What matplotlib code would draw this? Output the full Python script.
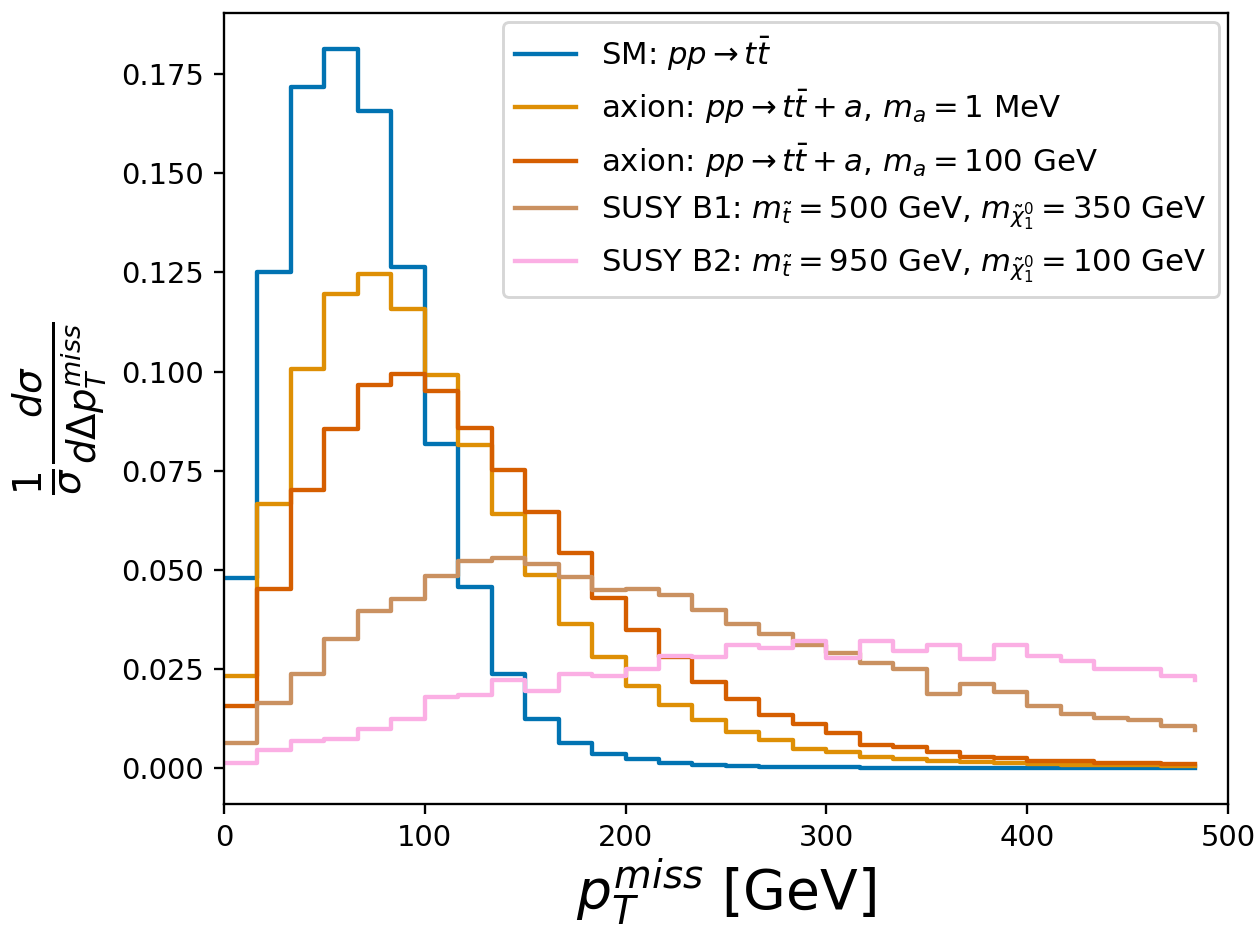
import numpy as np
import matplotlib
matplotlib.use('Agg')
import matplotlib.pyplot as plt

# bin left edges (30 bins of 500/30 GeV, drawn as post-steps)
ptmiss = np.arange(30) * 500.0 / 30

sm = [0.0479, 0.125, 0.1716, 0.1813, 0.1657, 0.1263, 0.0817, 0.0457, 0.0239, 0.0125,
      0.0065, 0.0037, 0.0024, 0.0013, 0.0008, 0.0005, 0.0004, 0.0003, 0.0003, 0.0002,
      0.0002, 0.0002, 0.0001, 0.0001, 0.0001, 0.0001, 0.0001, 0.0001, 0.0001, 0.0001]
axion_1mev = [0.0232, 0.0666, 0.1006, 0.1195, 0.1247, 0.1157, 0.0991, 0.0814, 0.0642, 0.0487,
              0.0365, 0.0281, 0.0209, 0.0159, 0.0121, 0.0092, 0.0071, 0.0048, 0.0041, 0.0030,
              0.0023, 0.0019, 0.0016, 0.0014, 0.0012, 0.0010, 0.0009, 0.0008, 0.0007, 0.0006]
axion_100gev = [0.0157, 0.0451, 0.0701, 0.0855, 0.0966, 0.0993, 0.0951, 0.0859, 0.0753, 0.0645,
                0.0544, 0.0429, 0.0348, 0.0281, 0.0218, 0.0176, 0.0136, 0.0111, 0.0089, 0.0060,
                0.0054, 0.0041, 0.0030, 0.0027, 0.0020, 0.0018, 0.0015, 0.0015, 0.0012, 0.0011]
susy_b1 = [0.0064, 0.0166, 0.0239, 0.0325, 0.0396, 0.0426, 0.0485, 0.0522, 0.0531, 0.0514,
           0.0482, 0.0449, 0.0451, 0.0438, 0.0400, 0.0365, 0.0340, 0.0312, 0.0292, 0.0267,
           0.0250, 0.0188, 0.0212, 0.0192, 0.0157, 0.0138, 0.0128, 0.0121, 0.0107, 0.0096]
susy_b2 = [0.0014, 0.0047, 0.0068, 0.0075, 0.0100, 0.0125, 0.0180, 0.0186, 0.0222, 0.0194,
           0.0239, 0.0234, 0.0251, 0.0283, 0.0281, 0.0312, 0.0303, 0.0320, 0.0279, 0.0320,
           0.0296, 0.0310, 0.0275, 0.0310, 0.0283, 0.0270, 0.0251, 0.0250, 0.0232, 0.0222]

labels = [r'SM: $pp\rightarrow t\bar{t}$',
          r'axion: $pp\rightarrow t\bar{t}+a$, $m_a=1$ MeV',
          r'axion: $pp\rightarrow t\bar{t}+a$, $m_a=100$ GeV',
          r'SUSY B1: $m_{\tilde{t}}=500$ GeV, $m_{\tilde{\chi}_1^0}=350$ GeV',
          r'SUSY B2: $m_{\tilde{t}}=950$ GeV, $m_{\tilde{\chi}_1^0}=100$ GeV']
colors = ['#0173b2', '#de8f05', '#d55e00', '#ca9161', '#fbafe4']

dpi = 209
fig, ax = plt.subplots(figsize=(1256 / dpi, 926 / dpi), dpi=dpi)
fig.subplots_adjust(left=0.1783, right=0.9777, top=0.986, bottom=0.1317)

for y, lab, c in zip([sm, axion_1mev, axion_100gev, susy_b1, susy_b2], labels, colors):
    ax.step(ptmiss, y, where='post', color=c, label=lab)

ax.set_xlim(0, 500)
ax.set_xlabel(r'$p_T^{miss}$ [GeV]', fontsize=19, labelpad=1.5)
ax.set_ylabel(r'$\frac{1}{\sigma}\frac{d\sigma}{d\Delta p_T^{miss}}$', fontsize=19)
ax.legend(loc='upper right', fontsize=10.6, borderaxespad=0.3)

fig.savefig('out.png', dpi=dpi)
